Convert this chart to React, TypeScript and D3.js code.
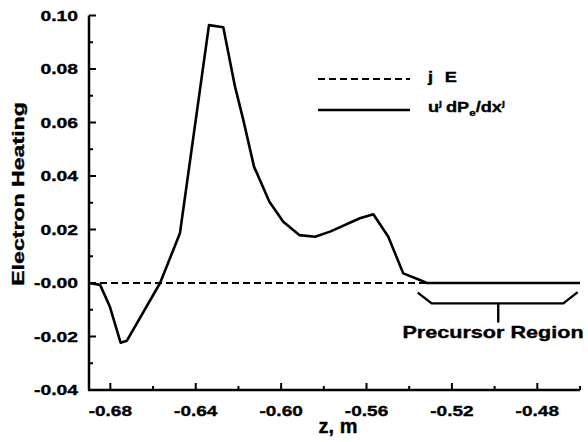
import React from "react";
import * as d3 from "d3";

const zVals = [-0.69, -0.6848, -0.6802, -0.6752, -0.6723, -0.6567, -0.6474, -0.6338, -0.6271, -0.6216, -0.6177, -0.6127, -0.6055, -0.599, -0.5915, -0.5841, -0.5771, -0.5631, -0.5568, -0.5498, -0.5428, -0.535, -0.5318, -0.46];
const heatVals = [0, -0.0007, -0.0089, -0.0223, -0.0216, 0, 0.0186, 0.0964, 0.0956, 0.0734, 0.0609, 0.0435, 0.0304, 0.0229, 0.0179, 0.0173, 0.0192, 0.0242, 0.0257, 0.0173, 0.0036, 0.0011, 0, 0];
const jeZ = [-0.69, -0.46];
const jeVals = [0, 0];

const xMajor = [-0.68, -0.64, -0.6, -0.56, -0.52, -0.48];
const xMajorLabels = ["-0.68", "-0.64", "-0.60", "-0.56", "-0.52", "-0.48"];
const xMinor = [-0.66, -0.62, -0.58, -0.54, -0.5, -0.46];
const yMajor = [-0.04, -0.02, 0, 0.02, 0.04, 0.06, 0.08, 0.1];
const yMajorLabels = ["-0.04", "-0.02", "-0.00", "0.02", "0.04", "0.06", "0.08", "0.10"];
const yMinor = [-0.03, -0.01, 0.01, 0.03, 0.05, 0.07, 0.09];

const bracketZ = [-0.536, -0.5295, -0.4678, -0.4611];
const bracketV = [-0.0036, -0.0076, -0.0076, -0.0034];
const bracketTickZ = [-0.4983, -0.4983];
const bracketTickV = [-0.0076, -0.0148];

const FONT = "'Liberation Sans', Arial, sans-serif";

function SText({ x, y, sx = 1.3, size, anchor = "start", rotate = 0, children }: any) {
  return (
    <g transform={`translate(${x},${y}) rotate(${rotate}) scale(${sx},1)`}>
      <text x={0} y={0} fontFamily={FONT} fontWeight="bold" fontSize={size} textAnchor={anchor} fill="#000" stroke="#000" strokeWidth={0.35}>
        {children}
      </text>
    </g>
  );
}

export default function App() {
  const W = 588, H = 442;
  const x = d3.scaleLinear().domain([-0.69, -0.46]).range([89, 580]);
  const y = d3.scaleLinear().domain([-0.04, 0.1]).range([390, 15.5]);
  const mk = (zs: number[], vs: number[]) =>
    d3.line<number>().x((d) => x(d)).y((_, i) => y(vs[i]))(zs) as string;

  const axisW = 2.5;
  return (
    <svg width={W} height={H} style={{ position: "absolute", left: 0, top: 0, background: "#fff" }}>
      <rect x={0} y={0} width={W} height={H} fill="#fff" />
      <line x1={x(-0.69)} x2={x(-0.69)} y1={y(0.1)} y2={y(-0.04)} stroke="#000" strokeWidth={axisW} />
      <line x1={x(-0.69) - 1} x2={x(-0.46)} y1={y(-0.04)} y2={y(-0.04)} stroke="#000" strokeWidth={axisW} />
      {yMajor.map((v) => (
        <line key={"ym" + v} x1={x(-0.69)} x2={x(-0.69) + 7} y1={y(v)} y2={y(v)} stroke="#000" strokeWidth={2} />
      ))}
      {yMinor.map((v) => (
        <line key={"yn" + v} x1={x(-0.69)} x2={x(-0.69) + 4} y1={y(v)} y2={y(v)} stroke="#000" strokeWidth={2} />
      ))}
      {xMajor.map((v) => (
        <line key={"xm" + v} x1={x(v)} x2={x(v)} y1={y(-0.04)} y2={y(-0.04) - 7} stroke="#000" strokeWidth={2} />
      ))}
      {xMinor.map((v) => (
        <line key={"xn" + v} x1={x(v)} x2={x(v)} y1={y(-0.04)} y2={y(-0.04) - 4} stroke="#000" strokeWidth={2} />
      ))}
      {yMajor.map((v, i) => (
        <SText key={"yl" + v} x={78} y={y(v) + 5} size={14.5} sx={1.33} anchor="end">
          {yMajorLabels[i]}
        </SText>
      ))}
      {xMajor.map((v, i) => (
        <SText key={"xl" + v} x={x(v)} y={416} size={15} sx={1.27} anchor="middle">
          {xMajorLabels[i]}
        </SText>
      ))}
      <SText x={338} y={433} size={20} sx={1.0} anchor="middle">z, m</SText>
      <SText x={24} y={194} size={17} sx={1.36} anchor="middle" rotate={-90}>Electron Heating</SText>

      <path d={mk(jeZ, jeVals)} fill="none" stroke="#000" strokeWidth={2} strokeDasharray="7,4" />
      <path d={mk(zVals, heatVals)} fill="none" stroke="#000" strokeWidth={2.6} strokeLinejoin="round" />

      <path d={mk(bracketZ, bracketV)} fill="none" stroke="#000" strokeWidth={2.4} />
      <path d={mk(bracketTickZ, bracketTickV)} fill="none" stroke="#000" strokeWidth={2.4} />
      <SText x={493} y={338} size={16} sx={1.35} anchor="middle">Precursor Region</SText>

      <line x1={318} x2={410} y1={79} y2={79} stroke="#000" strokeWidth={2} strokeDasharray="7,4" />
      <line x1={318} x2={410} y1={110} y2={110} stroke="#000" strokeWidth={2.6} />
      <SText x={428} y={82} size={14} sx={1.3}>
        <tspan>j</tspan>
        <tspan dx={9}>E</tspan>
      </SText>
      <SText x={428} y={112} size={14} sx={1.3}>
        <tspan>u</tspan>
        <tspan fontSize={8} dy={-6}>j</tspan>
        <tspan dy={6} dx={3}>dP</tspan>
        <tspan fontSize={9} dy={4}>e</tspan>
        <tspan dy={-4}>/dx</tspan>
        <tspan fontSize={8} dy={-6}>j</tspan>
      </SText>
    </svg>
  );
}
